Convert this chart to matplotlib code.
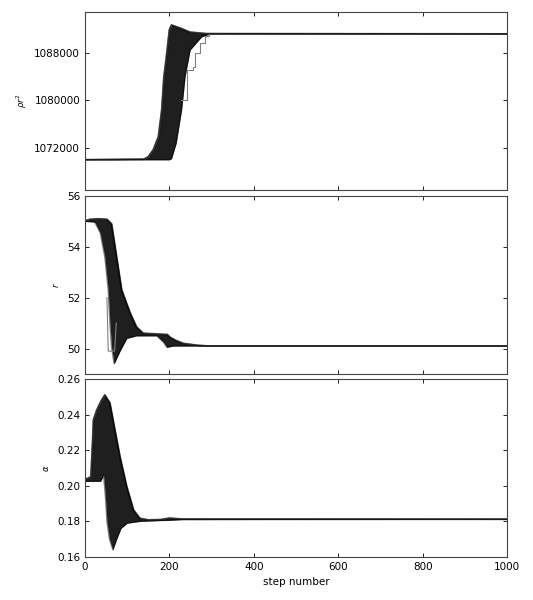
import matplotlib
matplotlib.use('Agg')
import matplotlib.pyplot as plt
import numpy as np

# walker band edges (upper / lower envelope)
steps_max = 1000

# panel 1: rho r^2
rr_hi_steps = [0, 140, 150, 162, 174, 182, 187, 192, 200, 205, 225, 249, 288, 1000]
rr_hi_vals = [1070000, 1070100, 1070500, 1071700, 1073900, 1078500, 1084000, 1086800,
              1091900, 1092700, 1092200, 1091500, 1091250, 1091200]
rr_lo_steps = [0, 200, 205, 216, 229, 237, 249, 276, 296, 1000]
rr_lo_vals = [1070000, 1070000, 1070200, 1072800, 1078500, 1084000, 1088500,
              1090700, 1091200, 1091200]
rr_stray_steps = [228, 241, 256, 261, 273, 284, 295]
rr_stray_vals = [1080000, 1085100, 1085700, 1088000, 1089700, 1090800, 1091200]

# panel 2: r
r_hi_steps = [0, 12, 30, 52, 63, 75, 87, 107, 122, 138, 195, 201, 215, 233, 265, 290, 1000]
r_hi_vals = [55.02, 55.08, 55.1, 55.08, 54.9, 53.6, 52.3, 51.4, 50.85, 50.6, 50.55,
             50.45, 50.32, 50.2, 50.13, 50.1, 50.1]
r_lo_steps = [0, 20, 24, 36, 47, 55, 59, 63, 69, 83, 99, 122, 170, 186, 194, 209, 1000]
r_lo_vals = [55.0, 54.98, 54.95, 54.55, 53.6, 52.3, 51.0, 50.05, 49.4, 49.9, 50.4,
             50.5, 50.5, 50.25, 50.05, 50.1, 50.1]
r_stray_steps = [52, 55, 70, 74]
r_stray_vals = [52.0, 49.9, 49.9, 51.0]

# panel 3: alpha
a_hi_steps = [0, 14, 18, 20, 28, 39, 47, 59, 71, 83, 99, 115, 130, 150, 180, 200, 230, 1000]
a_hi_vals = [0.2035, 0.205, 0.225, 0.237, 0.2426, 0.248, 0.251, 0.2465, 0.2313, 0.2163,
             0.1995, 0.1864, 0.1817, 0.1808, 0.181, 0.1818, 0.1813, 0.1812]
a_lo_steps = [0, 37, 44, 48, 52, 58, 66, 75, 85, 100, 130, 180, 200, 230, 1000]
a_lo_vals = [0.2025, 0.2025, 0.206, 0.195, 0.18, 0.170, 0.164, 0.170, 0.176, 0.179,
             0.1800, 0.1805, 0.1806, 0.1810, 0.1812]

xticks = [0, 200, 400, 600, 800, 1000]
rr_ticks = [1072000, 1080000, 1088000]
r_ticks = [50, 52, 54, 56]
a_ticks = [0.16, 0.18, 0.20, 0.22, 0.24, 0.26]

plt.rcParams['xtick.direction'] = 'in'
plt.rcParams['ytick.direction'] = 'in'
plt.rcParams['xtick.top'] = True
plt.rcParams['ytick.right'] = True
plt.rcParams['font.size'] = 7.5

fig = plt.figure(figsize=(5.33, 6.0), dpi=100)
left, width, height = 0.1595, 0.7917, 0.2967
ax1 = fig.add_axes([left, 0.6833, width, height])
ax2 = fig.add_axes([left, 0.3767, width, height])
ax3 = fig.add_axes([left, 0.0717, width, height])


def draw_band(ax, hs, hv, ls, lv):
    # put both edges on the same steps so the band can be filled
    grid = sorted(set(hs) | set(ls))
    hi = np.interp(grid, hs, hv)
    lo = np.interp(grid, ls, lv)
    ax.fill_between(grid, lo, hi, color='black', alpha=0.88, lw=0)
    ax.plot(hs, hv, color='black', alpha=0.5, lw=1.0)
    ax.plot(ls, lv, color='black', alpha=0.5, lw=1.0)
    ax.plot(grid, hi, color='black', lw=1.4, alpha=0.6)


draw_band(ax1, rr_hi_steps, rr_hi_vals, rr_lo_steps, rr_lo_vals)
ax1.plot(rr_stray_steps, rr_stray_vals, color='gray', lw=0.8, drawstyle='steps-post')
ax1.set_ylim(1064900, 1094900)
ax1.set_yticks(rr_ticks)
ax1.ticklabel_format(axis='y', style='plain', useOffset=False)
ax1.set_ylabel(r'$\rho r^2$', fontsize=6)

draw_band(ax2, r_hi_steps, r_hi_vals, r_lo_steps, r_lo_vals)
ax2.plot(r_stray_steps, r_stray_vals, color='gray', lw=0.8)
ax2.set_ylim(49, 56)
ax2.set_yticks(r_ticks)
ax2.set_ylabel(r'$r$', fontsize=6)

draw_band(ax3, a_hi_steps, a_hi_vals, a_lo_steps, a_lo_vals)
ax3.set_ylim(0.16, 0.26)
ax3.set_yticks(a_ticks)
ax3.set_ylabel(r'$\alpha$', fontsize=6)
ax3.set_xlabel('step number')

for ax in (ax1, ax2, ax3):
    ax.set_xlim(0, steps_max)
    ax.set_xticks(xticks)
    ax.tick_params(length=3, width=0.6, colors='black')
    for s in ax.spines.values():
        s.set_color('#444444')
for ax in (ax1, ax2):
    ax.set_xticklabels([])
ax3.set_yticklabels(['%.2f' % t for t in a_ticks])

fig.savefig('out.png', dpi=100, facecolor='white')
